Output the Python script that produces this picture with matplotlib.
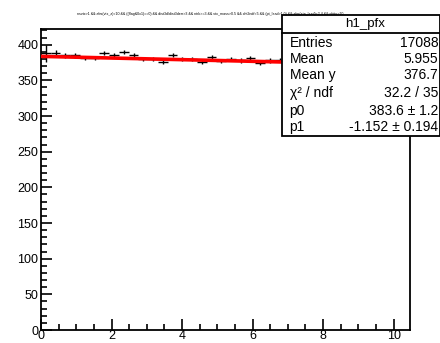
import numpy as np
import matplotlib
matplotlib.use("Agg")
import matplotlib.pyplot as plt
from matplotlib.patches import Rectangle
from matplotlib.ticker import MultipleLocator

plt.rcParams["font.family"] = ["Liberation Sans", "DejaVu Sans"]

# ── Data (profile h1_pfx) ──────────────────────────────────────────────────
NBINS = 38
XMIN, XMAX = 0.0, 10.5
bin_vals = [388, 389, 385, 385, 381, 381, 388, 385, 390, 386,
            380, 380, 376, 386, 380, 380, 376, 383, 377, 380,
            378, 381, 375, 378, 379, 376, 378, 377, 376, 375,
            374, 376, 373, 374, 372, 373, 371, 372]
bin_errs = [12, 4, 3, 3, 3, 3, 3, 3, 3, 3,
            3, 3, 3, 3, 3, 3, 3, 3, 3, 3,
            3, 3, 3, 3, 3, 3, 3, 3, 3, 3,
            3, 3, 3, 3, 3, 3, 3, 3]
p0, p1 = 383.6, -1.152

stats_labels = ["Entries", "Mean", "Mean y", "χ² / ndf", "p0", "p1"]
stats_values = ["17088", "5.955", "376.7", "32.2 / 35", "383.6 ± 1.2", "-1.152 ± 0.194"]
title = ("nsvtx>1 && abs(vtx_z)<10 && ((flag&0x1)==0) && dist3d/dist3derr>3 && ntrk>=3 "
         "&& vtx_mass>0.5 && chi2ndf<5 && (pt_lead>1.0) && abs(eta_lead)<2.4 && nhits>10")

edges = np.linspace(XMIN, XMAX, NBINS + 1)
centers = 0.5 * (edges[:-1] + edges[1:])
half_w = 0.5 * (edges[1] - edges[0])

# ── Plot ───────────────────────────────────────────────────────────────────
fig = plt.figure(figsize=(4.4, 3.43), dpi=100)
ax = fig.add_axes([0.0932, 0.0379, 0.839, 0.8776])

ax.errorbar(centers, bin_vals, xerr=half_w, yerr=bin_errs, fmt="none",
            ecolor="black", elinewidth=1.0, capsize=0, zorder=2)
xf = np.array([XMIN, XMAX])
ax.plot(xf, p0 + p1 * xf, color="red", lw=2.6, zorder=3)

ax.set_xlim(0, 10.47)
ax.set_ylim(0, 422)
ax.xaxis.set_major_locator(MultipleLocator(2))
ax.xaxis.set_minor_locator(MultipleLocator(0.5))
ax.yaxis.set_major_locator(MultipleLocator(50))
ax.yaxis.set_minor_locator(MultipleLocator(10))
ax.tick_params(which="both", direction="in", top=False, right=False,
               labelsize=9, width=1.2)
ax.tick_params(which="major", length=8)
ax.tick_params(which="minor", length=4)
ax.tick_params(axis="x", pad=0)
ax.tick_params(axis="y", pad=2)
for s in ax.spines.values():
    s.set_linewidth(1.3)

fig.text(0.477, 0.959, title, fontsize=2.6, ha="center", va="center", zorder=13)

# stats box
bx0, bx1 = 0.641, 1.0
by_top, by_sep, by_bot = 0.955, 0.905, 0.603
fig.patches.append(Rectangle((bx0, by_bot), bx1 - bx0, by_top - by_bot,
                             transform=fig.transFigure, facecolor="white",
                             edgecolor="black", lw=1.3, zorder=10))
fig.lines.append(plt.Line2D([bx0, bx1], [by_sep, by_sep], transform=fig.transFigure,
                            color="black", lw=1.3, zorder=11))
fig.text(0.83, 0.931, "h1_pfx", fontsize=9.5, ha="center", va="center", zorder=12)
row_y = [0.876, 0.828, 0.781, 0.730, 0.676, 0.629]
for lab, val, yy in zip(stats_labels, stats_values, row_y):
    fig.text(0.658, yy, lab, fontsize=10, ha="left", va="center", zorder=12)
    fig.text(0.996, yy, val, fontsize=10, ha="right", va="center", zorder=12)

fig.savefig("out.png", dpi=100)
